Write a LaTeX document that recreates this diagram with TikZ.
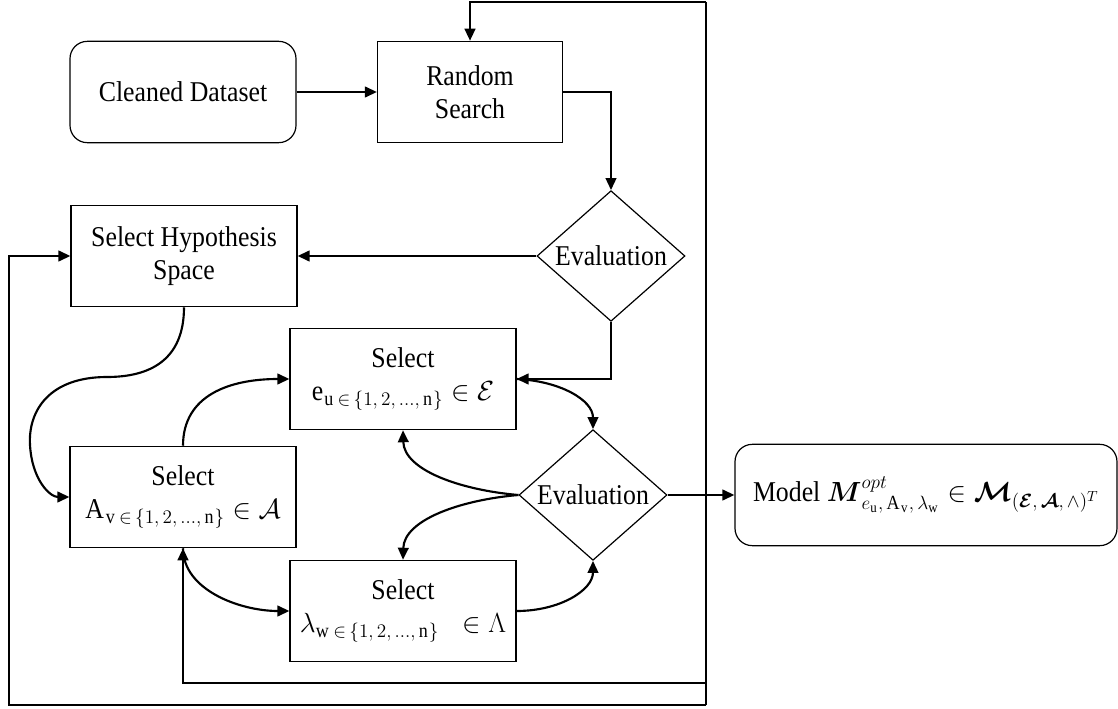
\documentclass[tikz,border=0pt]{standalone}
\usepackage{amsmath,amssymb}
\usepackage{fontspec}
\setmainfont[FakeStretch=0.9]{Liberation Serif}
\usetikzlibrary{arrows.meta,shapes.geometric}
\newcommand{\SetIdx}[1]{#1\,\in\,\{1,\,2,\,\ldots,\,\mathrm{n}\}}

\begin{document}
\begin{tikzpicture}[x=0.75pt,y=-0.75pt,
  font=\fontsize{21.5}{25}\selectfont,
  procbox/.style={draw,line width=0.9pt,align=center,minimum width=169.5pt,minimum height=76pt},
  roundbox/.style={procbox,rounded corners=13pt},
  evalbox/.style={draw,line width=0.9pt,diamond,aspect=1.14,inner sep=0pt,minimum width=111pt,minimum height=98pt},
  flow/.style={line width=1.6pt,-{Triangle[length=9pt,width=8pt]}}]
\useasboundingbox (0,0) rectangle (1118,709);

% boxes
\node[roundbox] (cd) at (183,92) {Cleaned Dataset};
\node[procbox,minimum width=138.75pt] (rs) at (470,92) {Random\\Search};
\node[evalbox] (ev1) at (611,256) {Evaluation};
\node[procbox] (shs) at (184,256) {Select Hypothesis\\Space};
\node[procbox] (sele) at (403,379) {Select\\$\mathrm{e}_{\SetIdx{\mathrm{u}}}\in\mathcal{E}$};
\node[evalbox] (ev2) at (593,495) {Evaluation};
\node[procbox] (sela) at (183,497) {Select\\$\mathrm{A}_{\SetIdx{\mathrm{v}}}\in\mathcal{A}$};
\node[procbox] (sell) at (403,611) {Select\\$\lambda_{\SetIdx{\mathrm{w}}}\;\;\in\Lambda$};
\node[roundbox,minimum width=286.5pt] (model) at (926,495)
  {Model $\boldsymbol{M}^{opt}_{e_{\mathrm{u}},\,\mathrm{A}_{\mathrm{v}},\,\lambda_{\mathrm{w}}}\in\boldsymbol{\mathcal{M}}_{(\boldsymbol{\mathcal{E}},\,\boldsymbol{\mathcal{A}},\,\wedge)^{T}}$};

% loop bus
\coordinate (tr) at (706,2);
\coordinate (br) at (706,705);
\coordinate (bl) at (9,705);
\coordinate (ib) at (706,683);

\draw[flow] (cd) -- (rs);
\draw[flow] (rs.east) -| (ev1.north);
\draw[flow] (ev1.west) -- (shs.east);
\draw[flow] (ev1.south) |- (sele.east);
\draw[flow] (ev2.east) -- (model.west);

\draw[flow] (tr) -| (rs.north);
\draw[line width=1.6pt] (tr) -- (br);
\draw[flow] (br) -- (bl) |- (shs.west);
\draw[flow] (ib) -| (sela.south);

% curved links
\draw[flow] (shs.south) .. controls (184,360) and (150,377) .. (107,377)
  .. controls (50,377) and (28,410) .. (30,445) .. controls (32,480) and (50,497) .. (sela.west);
\draw[flow] (sela.north) .. controls (183,395) and (230,379) .. (sele.west);
\draw[flow] (sele.east) .. controls (560,381) and (593,400) .. (ev2.north);
\draw[flow] (ev2.west) .. controls (460,490) and (404,470) .. (sele.south);
\draw[flow] (ev2.west) .. controls (460,500) and (404,520) .. (sell.north);
\draw[flow] (sela.south) .. controls (183,590) and (240,611) .. (sell.west);
\draw[flow] (sell.east) .. controls (560,611) and (593,590) .. (ev2.south);
\end{tikzpicture}
\end{document}
